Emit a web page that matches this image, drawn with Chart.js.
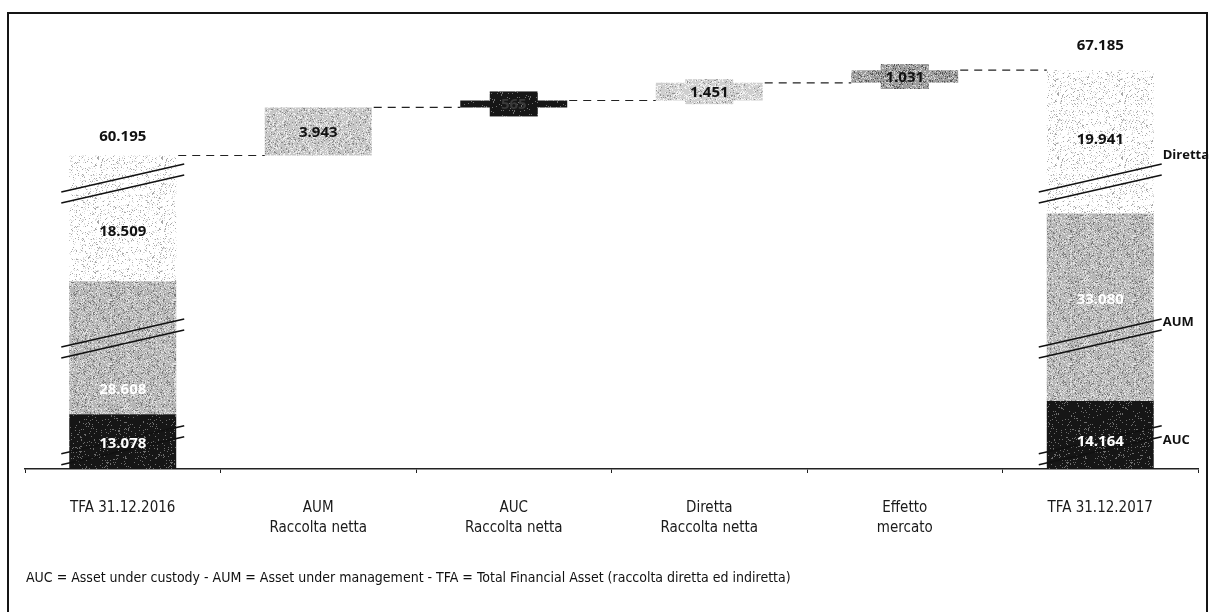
<!DOCTYPE html>
<html>
<head>
<meta charset="utf-8">
<script src="https://cdn.jsdelivr.net/npm/chart.js@4.4.1/dist/chart.umd.min.js"></script>
<style>
  html, body { margin:0; padding:0; background:#fff; }
  #wrap { position:relative; width:1209px; height:612px; overflow:hidden; }
  #frame { position:absolute; left:7px; top:12px; width:1197px; height:660px; border:2px solid #151515; }
  #note { position:absolute; left:26px; top:569px; font:14px "DejaVu Sans Condensed","DejaVu Sans",sans-serif; color:#111; white-space:nowrap; }
  canvas { position:absolute; left:0; top:0; }
</style>
</head>
<body>
<div id="wrap">
  <div id="frame"></div>
  <canvas id="chart" width="1209" height="612"></canvas>
  <div id="note">AUC = Asset under custody - AUM = Asset under management - TFA = Total Financial Asset (raccolta diretta ed indiretta)</div>
</div>
<script>
/* ===== DATA ===== */
const categories = [
  ["TFA 31.12.2016"], ["AUM", "Raccolta netta"], ["AUC", "Raccolta netta"],
  ["Diretta", "Raccolta netta"], ["Effetto", "mercato"], ["TFA 31.12.2017"]
];
const segments = ["AUC", "AUM", "Diretta"];
const tfa2016 = [13078, 28608, 18509];
const tfa2017 = [14164, 33080, 19941];
const flows = [3943, 565, 1451, 1031];      // AUM, AUC, Diretta, Effetto mercato
const axisCut = [8600, 17700, 8200];        // amount hidden by the axis break in each segment

/* ===== HELPERS ===== */
const fmt = v => String(v).replace(/\B(?=(\d{3})+(?!\d))/g, ".");

// stippled fill like the scanned original (fixed seed, only a texture)
function stipple(base, dots, seed) {
  const c = document.createElement("canvas");
  c.width = c.height = 64;
  const g = c.getContext("2d");
  g.fillStyle = base; g.fillRect(0, 0, 64, 64);
  let s = seed;
  const rnd = () => (s = (s * 1103515245 + 12345) % 2147483648) / 2147483648;
  for (let yy = 0; yy < 64; yy++) for (let xx = 0; xx < 64; xx++) {
    const r = rnd();
    let acc = 0;
    for (const [col, p] of dots) {
      acc += p;
      if (r < acc) { g.fillStyle = col; g.fillRect(xx, yy, 1, 1); break; }
    }
  }
  return g.createPattern(c, "repeat");
}
const cv = document.getElementById("chart");
const fills = {
  AUC: stipple("#161616", [["#6e6e6e", 0.08]], 7),
  AUM: stipple("#b6b6b6", [["#e2e2e2", 0.22], ["#777777", 0.12]], 11),
  Diretta: stipple("#ffffff", [["#a8a8a8", 0.06], ["#dcdcdc", 0.10]], 3)
};
const flowFills = [
  stipple("#c6c6c6", [["#eeeeee", 0.2], ["#8a8a8a", 0.10]], 5),
  stipple("#161616", [["#707070", 0.10]], 9),
  stipple("#cfcfcf", [["#f2f2f2", 0.22], ["#939393", 0.08]], 13),
  stipple("#9c9c9c", [["#d4d4d4", 0.18], ["#555555", 0.14]], 17)
];
const textColors = { AUC: "#fff", AUM: "#fff", Diretta: "#111" };
const flowText = ["#111", "#3a3a3a", "#111", "#111"];
// vertical nudges of the stacked labels (style only): [2016, 2017] x [AUC, AUM, Diretta]
const labelShift = [[2, 42, 13], [7, -8, -2]];

/* ===== BUILD DATASETS ===== */
const shown = (v, i) => v - axisCut[i];
let b16 = 0, b17 = 0;
const datasets = segments.map((name, i) => {
  const d16 = [b16, b16 + shown(tfa2016[i], i)];
  const d17 = [b17, b17 + shown(tfa2017[i], i)];
  b16 = d16[1]; b17 = d17[1];
  return {
    label: name, data: [d16, null, null, null, null, d17],
    backgroundColor: fills[name], grouped: false
  };
});
const levels = [b16];
const flowData = [null];
flows.forEach(f => {
  const lo = levels[levels.length - 1];
  flowData.push([lo, lo + f]);
  levels.push(lo + f);
});
flowData.push(null);
datasets.push({ label: "Raccolta", data: flowData, backgroundColor: [null].concat(flowFills), grouped: false });

/* ===== OVERLAY: labels, breaks, connectors ===== */
const valueFont = 'bold 15px "Open Sans", sans-serif';
const breaks = [
  { level: 1950, label: "AUC", dy: -5 },
  { level: 10700, label: "AUM", dy: -16 },
  { level: 23400, label: "Diretta", dy: -28 }
];
const overlay = {
  id: "overlay",
  afterDatasetsDraw(chart) {
    const ctx = chart.ctx, ys = chart.scales.y;
    const flowMeta = chart.getDatasetMeta(3);
    ctx.save();
    ctx.textAlign = "center"; ctx.textBaseline = "middle";

    // dashed connectors
    ctx.strokeStyle = "#222"; ctx.lineWidth = 1.2; ctx.setLineDash([8, 6]);
    for (let j = 0; j < 5; j++) {
      const a = j === 0 ? chart.getDatasetMeta(2).data[0] : flowMeta.data[j];
      const b = j === 4 ? chart.getDatasetMeta(2).data[5] : flowMeta.data[j + 1];
      const yp = ys.getPixelForValue(levels[j]);
      ctx.beginPath();
      ctx.moveTo(a.x + a.width / 2 + 2, yp);
      ctx.lineTo(b.x - b.width / 2, yp);
      ctx.stroke();
    }
    ctx.setLineDash([]);

    // flow labels with boxes
    flows.forEach((f, k) => {
      const el = flowMeta.data[k + 1];
      const yc = (el.y + el.base) / 2;
      ctx.fillStyle = flowFills[k];
      ctx.fillRect(el.x - 24, yc - 12.5, 48, 25);
      ctx.fillStyle = flowText[k]; ctx.font = valueFont;
      ctx.fillText(fmt(f), el.x, yc + 1);
    });

    [[0, tfa2016], [5, tfa2017]].forEach(([idx, vals], n) => {
      const top = chart.getDatasetMeta(2).data[idx];

      // axis breaks
      const xL = top.x - top.width / 2 - 8, xR = top.x + top.width / 2 + 8;
      ctx.strokeStyle = "#111"; ctx.lineWidth = 1.6;
      breaks.forEach(br => {
        const yp = ys.getPixelForValue(br.level);
        [-5.5, 5.5].forEach(o => {
          ctx.beginPath();
          ctx.moveTo(xL, yp + o + 14);
          ctx.lineTo(xR, yp + o - 14);
          ctx.stroke();
        });
        if (idx === 5) {
          ctx.textAlign = "left"; ctx.font = 'bold 13px "Open Sans", sans-serif';
          ctx.fillStyle = "#111";
          ctx.fillText(br.label, xR + 1, yp + br.dy);
          ctx.textAlign = "center";
        }
      });

      // stacked segment labels + totals
      segments.forEach((name, i) => {
        const el = chart.getDatasetMeta(i).data[idx];
        ctx.fillStyle = textColors[name]; ctx.font = valueFont;
        ctx.fillText(fmt(vals[i]), el.x, (el.y + el.base) / 2 + labelShift[n][i]);
      });
      ctx.fillStyle = "#111";
      ctx.fillText(fmt(vals.reduce((a, b) => a + b, 0)), top.x, top.y - (idx === 0 ? 19 : 24));
    });
    ctx.restore();
  }
};

/* ===== CHART ===== */
new Chart(cv, {
  type: "bar",
  data: { labels: categories, datasets: datasets },
  options: {
    responsive: false,
    animation: false,
    layout: { padding: { left: 25, right: 11, top: 20, bottom: 53 } },
    datasets: { bar: { barPercentage: 0.547, categoryPercentage: 1, borderWidth: 0 } },
    plugins: { legend: { display: false }, tooltip: { enabled: false } },
    scales: {
      x: {
        grid: { display: true, drawOnChartArea: false, drawTicks: true, tickLength: 4, color: "#222", offset: true },
        border: { display: true, color: "#222", width: 1.5 },
        ticks: {
          color: "#1a1a1a", padding: 25, maxRotation: 0, autoSkip: false,
          font: { family: '"DejaVu Sans Condensed", "DejaVu Sans", sans-serif', size: 15, lineHeight: 1.35 }
        },
        afterFit(s) { s.height = 90; }
      },
      y: { display: false, min: 0, max: 36800 }
    }
  },
  plugins: [overlay]
});
</script>
</body>
</html>
